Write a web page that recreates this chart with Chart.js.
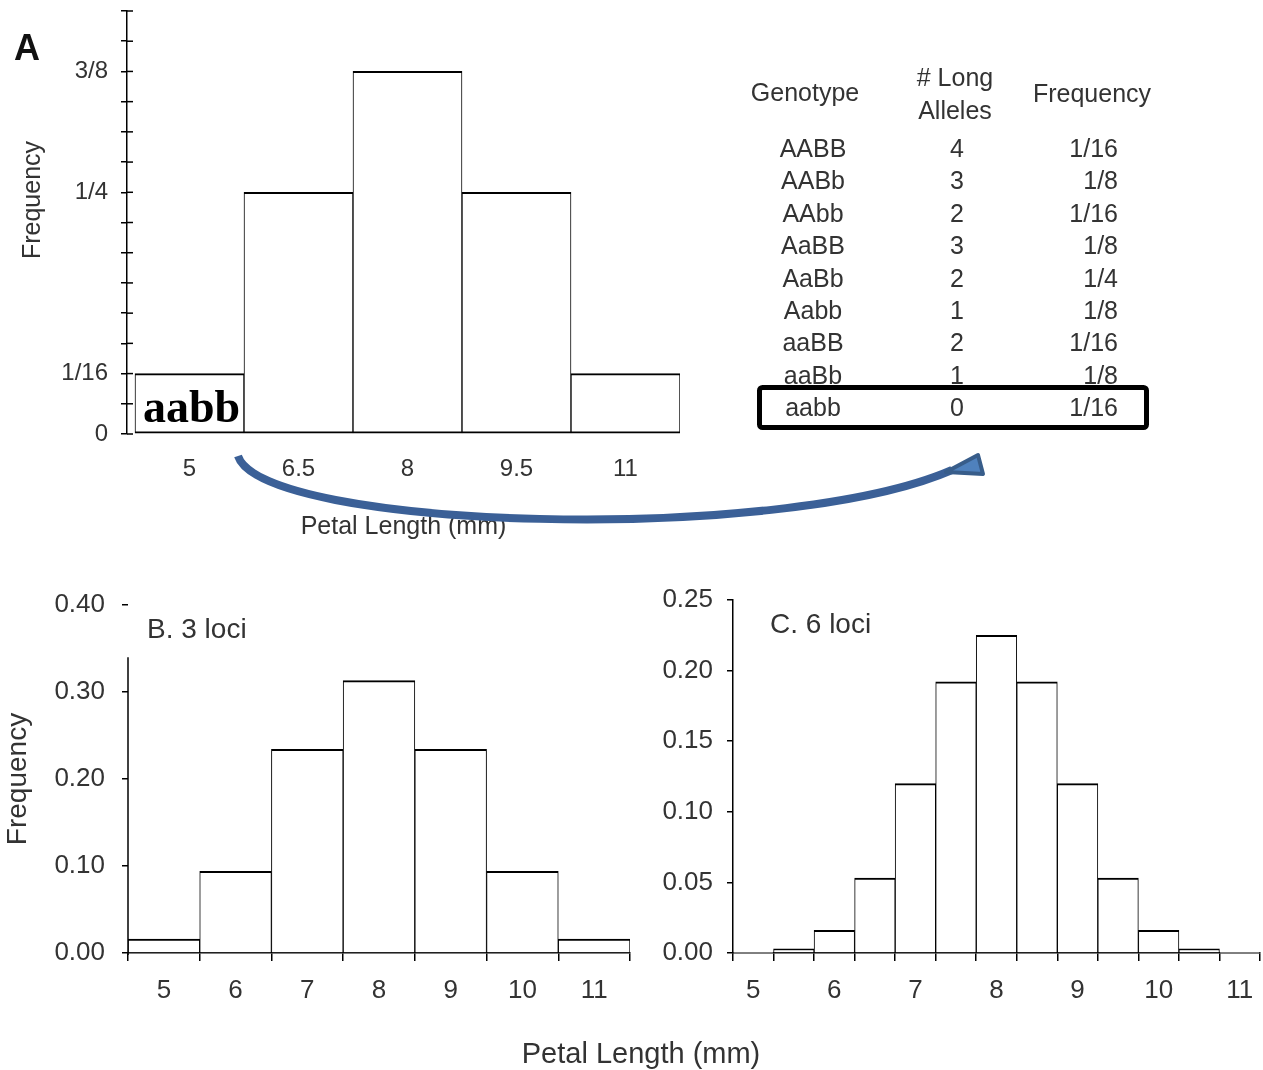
<!DOCTYPE html>
<html>
<head>
<meta charset="utf-8">
<script src="https://cdn.jsdelivr.net/npm/chart.js@4.4.0/dist/chart.umd.min.js"></script>
<style>
  html, body { margin: 0; padding: 0; background: #fff; }
  #page { position: relative; width: 1263px; height: 1070px; overflow: hidden; }
  .panel { position: absolute; }
  #overlay { position: absolute; left: 0; top: 0; pointer-events: none; }
</style>
</head>
<body>
<div id="page">
  <div class="panel" style="left:0;top:0;width:700px;height:560px"><canvas id="chartA"></canvas></div>
  <div class="panel" style="left:0;top:580px;width:640px;height:440px"><canvas id="chartB"></canvas></div>
  <div class="panel" style="left:640px;top:580px;width:623px;height:440px"><canvas id="chartC"></canvas></div>

  <svg id="overlay" width="1263" height="1070" font-family="'Liberation Sans', Arial, sans-serif" fill="#333">
    <text x="14" y="60" font-size="36" font-weight="bold" fill="#111">A</text>
    <text transform="translate(40,200) rotate(-90)" text-anchor="middle" font-size="25">Frequency</text>
    <text x="143" y="422" font-family="'Liberation Serif', 'Times New Roman', serif" font-weight="bold" font-size="46" fill="#000">aabb</text>

    <!-- genotype table -->
    <g font-size="25">
      <text x="805" y="101" text-anchor="middle">Genotype</text>
      <text x="955" y="86" text-anchor="middle"># Long</text>
      <text x="955" y="119" text-anchor="middle">Alleles</text>
      <text x="1092" y="102" text-anchor="middle">Frequency</text>
      <g id="tableRows"></g>
    </g>
    <rect x="759.5" y="387.5" width="387" height="40" rx="3" fill="none" stroke="#000" stroke-width="5"/>

    <!-- curved arrow from the aabb bar to the aabb row -->
    <path d="M 238 456 C 262 530, 780 545, 952 470" fill="none" stroke="#3B6097" stroke-width="8"/>
    <polygon points="946,472 978,455 983,474" fill="#4F81BD" stroke="#385D8A" stroke-width="4" stroke-linejoin="round"/>

    <text x="147" y="638" font-size="28">B. 3 loci</text>
    <text x="770" y="633" font-size="28">C. 6 loci</text>
    <text x="641" y="1063" text-anchor="middle" font-size="29">Petal Length (mm)</text>
  </svg>
</div>

<script>
// Panel A: 2 loci
const lengthsA = [5, 6.5, 8, 9.5, 11];
const freqA = [0.0625, 0.25, 0.375, 0.25, 0.0625];
const yTickValuesA = [0, 0.0625, 0.25, 0.375];
const yTickLabelsA = ['0', '1/16', '1/4', '3/8'];
const yMinorStepA = 0.03125;
const yMaxA = 0.4375;

// Genotype table
const genotypes = ['AABB', 'AABb', 'AAbb', 'AaBB', 'AaBb', 'Aabb', 'aaBB', 'aaBb', 'aabb'];
const longAlleles = ['4', '3', '2', '3', '2', '1', '2', '1', '0'];
const genotypeFreq = ['1/16', '1/8', '1/16', '1/8', '1/4', '1/8', '1/16', '1/8', '1/16'];

// Panel B: 3 loci
const lengthsB = [5, 6, 7, 8, 9, 10, 11];
const freqB = [0.016, 0.094, 0.234, 0.313, 0.234, 0.094, 0.016];
const yTicksB = [0, 0.1, 0.2, 0.3, 0.4];

// Panel C: 6 loci
const lengthsC = [5, 5.5, 6, 6.5, 7, 7.5, 8, 8.5, 9, 9.5, 10, 10.5, 11];
const freqC = [0.0003, 0.003, 0.016, 0.053, 0.12, 0.192, 0.225, 0.192, 0.12, 0.053, 0.016, 0.003, 0.0003];
const yTicksC = [0, 0.05, 0.1, 0.15, 0.2, 0.25];

const INK = '#000';
const TEXT = '#333';

Chart.defaults.font.family = "'Liberation Sans', Arial, sans-serif";
Chart.defaults.color = TEXT;

// table rows
const SVGNS = 'http://www.w3.org/2000/svg';
const rowsG = document.getElementById('tableRows');
function addText(x, y, anchor, str) {
  const t = document.createElementNS(SVGNS, 'text');
  t.setAttribute('x', x);
  t.setAttribute('y', y);
  t.setAttribute('text-anchor', anchor);
  t.textContent = str;
  rowsG.appendChild(t);
}
genotypes.forEach((g, i) => {
  const y = 157 + 32.4 * i;
  addText(813, y, 'middle', g);
  addText(957, y, 'middle', longAlleles[i]);
  addText(1118, y, 'end', genotypeFreq[i]);
});

// cross ticks on panel A's axis, short axis line on panel B
const axisExtras = {
  id: 'axisExtras',
  afterDraw(chart, args, opts) {
    const { ctx, chartArea } = chart;
    const y = chart.scales.y;
    const left = chartArea.left;
    ctx.save();
    ctx.strokeStyle = INK;
    ctx.lineWidth = 1.5;
    if (opts.innerTicks) {
      y.ticks.forEach(t => {
        const py = y.getPixelForValue(t.value);
        ctx.beginPath();
        ctx.moveTo(left, py);
        ctx.lineTo(left + opts.innerTicks, py);
        ctx.stroke();
      });
    }
    if (opts.axisTo != null) {
      ctx.beginPath();
      ctx.moveTo(left, y.getPixelForValue(0) + 2);
      ctx.lineTo(left, y.getPixelForValue(opts.axisTo));
      ctx.stroke();
    }
    ctx.restore();
  }
};

const fixedY = w => s => { s.width = w; s.paddingTop = 0; s.paddingBottom = 0; };
const fixedX = h => s => { s.height = h; s.paddingLeft = 0; s.paddingRight = 0; };
const setTicks = values => s => { s.ticks = values.map(v => ({ value: v })); };

function histDataset(xs, ys, border) {
  return {
    data: xs.map((x, i) => ({ x, y: ys[i] })),
    backgroundColor: '#fff',
    borderColor: INK,
    borderWidth: border,
    borderSkipped: false,
    barPercentage: 1,
    categoryPercentage: 1,
  };
}

function baseOptions(padding, extras) {
  return {
    responsive: true,
    maintainAspectRatio: false,
    animation: false,
    layout: { padding },
    plugins: { legend: { display: false }, tooltip: { enabled: false }, axisExtras: extras },
  };
}

new Chart('chartA', {
  type: 'bar',
  data: { datasets: [histDataset(lengthsA, freqA, { top: 2, bottom: 2, left: 1, right: 1 })] },
  options: {
    ...baseOptions({ top: 11, right: 20, left: 0, bottom: 0 }, { innerTicks: 6 }),
    scales: {
      x: {
        type: 'linear', min: 4.14, max: 11.75, offset: false,
        afterBuildTicks: setTicks(lengthsA),
        afterFit: fixedX(126),
        grid: { display: false },
        border: { display: false },
        ticks: { autoSkip: false, maxRotation: 0, padding: 13, font: { size: 24 }, callback: v => String(v) },
        title: { display: true, text: 'Petal Length (mm)', font: { size: 25 }, padding: { top: 0, bottom: 18 } },
      },
      y: {
        min: 0, max: yMaxA,
        afterBuildTicks: s => {
          const vals = [];
          for (let i = 0; i * yMinorStepA <= yMaxA + 1e-9; i++) vals.push(i * yMinorStepA);
          s.ticks = vals.map(v => ({ value: v }));
        },
        afterFit: fixedY(127),
        grid: { drawOnChartArea: false, tickLength: 6, color: INK, lineWidth: 1.5 },
        border: { display: true, color: INK, width: 1.5 },
        ticks: {
          autoSkip: false, padding: 13, font: { size: 24 },
          callback: v => {
            const i = yTickValuesA.findIndex(t => Math.abs(t - v) < 1e-9);
            return i < 0 ? '' : yTickLabelsA[i];
          },
        },
      },
    },
  },
  plugins: [axisExtras],
});

new Chart('chartB', {
  type: 'bar',
  data: { datasets: [histDataset(lengthsB, freqB, { top: 2, bottom: 0, left: 1, right: 1 })] },
  options: {
    ...baseOptions({ top: 25, right: 10, left: 0, bottom: 0 }, { axisTo: 0.34 }),
    scales: {
      x: {
        type: 'linear', min: 4.5, max: 11.5, offset: false,
        afterBuildTicks: setTicks(lengthsB),
        afterFit: fixedX(67),
        grid: { offset: true, drawOnChartArea: false, tickLength: 8, color: INK, lineWidth: 1.5 },
        border: { display: true, color: INK, width: 1.5 },
        ticks: { autoSkip: false, maxRotation: 0, padding: 14, font: { size: 26 }, callback: v => String(v) },
      },
      y: {
        min: 0, max: 0.4,
        afterBuildTicks: setTicks(yTicksB),
        afterFit: fixedY(128),
        grid: { drawOnChartArea: false, tickLength: 6, color: INK, lineWidth: 1.5 },
        border: { display: false },
        ticks: { autoSkip: false, padding: 17, font: { size: 26 }, callback: v => v.toFixed(2) },
        title: { display: true, text: 'Frequency', font: { size: 28 }, padding: { top: 1, bottom: 0 } },
      },
    },
  },
  plugins: [axisExtras],
});

new Chart('chartC', {
  type: 'bar',
  data: { datasets: [histDataset(lengthsC, freqC, { top: 2, bottom: 0, left: 1, right: 1 })] },
  options: {
    ...baseOptions({ top: 20, right: 3, left: 0, bottom: 0 }, {}),
    scales: {
      x: {
        type: 'linear', min: 4.75, max: 11.25, offset: false,
        afterBuildTicks: setTicks(lengthsC),
        afterFit: fixedX(67),
        grid: { offset: true, drawOnChartArea: false, tickLength: 8, color: INK, lineWidth: 1.5 },
        border: { display: true, color: INK, width: 1.5 },
        ticks: { autoSkip: false, maxRotation: 0, padding: 14, font: { size: 26 }, callback: v => Number.isInteger(v) ? String(v) : '' },
      },
      y: {
        min: 0, max: 0.25,
        afterBuildTicks: setTicks(yTicksC),
        afterFit: fixedY(93),
        grid: { drawOnChartArea: false, tickLength: 6, color: INK, lineWidth: 1.5 },
        border: { display: true, color: INK, width: 1.5 },
        ticks: { autoSkip: false, padding: 14, font: { size: 26 }, callback: v => v.toFixed(2) },
      },
    },
  },
  plugins: [axisExtras],
});
</script>
</body>
</html>
